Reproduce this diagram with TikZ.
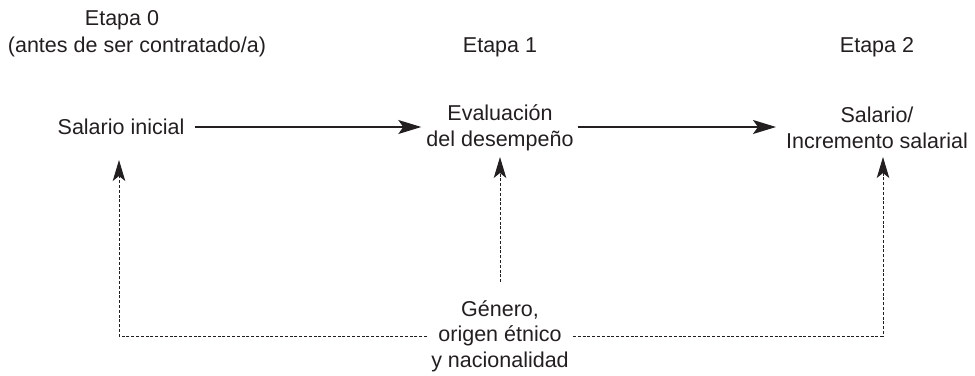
\documentclass[tikz,border=0pt]{standalone}
\usepackage{fontspec}
\setmainfont{Liberation Sans}
\usetikzlibrary{arrows.meta}
\definecolor{ink}{HTML}{231F20}
\begin{document}
\begin{tikzpicture}[x=1pt,y=-1pt,
  txt/.style={inner sep=4pt, text=ink, align=center, font=\fontsize{21.5}{25.5}\selectfont},
  flow/.style={draw=ink, line width=1.3pt, -{Stealth[length=23pt,width=14pt,inset=5pt]}},
  infl/.style={draw=ink, line width=1pt, dash pattern=on 3pt off 1.8pt},
  infltip/.style={infl, -{Stealth[length=21pt,width=12.5pt,inset=5pt]}}]
\useasboundingbox (0,0) rectangle (975,375);
\node[txt] (e0a) at (122,20) {Etapa 0};
\node[txt] (e0b) at (137,47) {(antes de ser contratado/a)};
\node[txt] (e1) at (500,47) {Etapa 1};
\node[txt] (e2) at (877,47) {Etapa 2};
\node[txt] (sal) at (121,127) {Salario inicial};
\node[txt] (ev) at (500,128) {Evaluación\\del desempeño};
\node[txt] (inc) at (877,128) {Salario/\\Incremento salarial};
\node[txt] (gen) at (500,336) {Género,\\origen étnico\\y nacionalidad};
\draw[flow, shorten <=6pt, shorten >=1pt] (sal.east) -- (sal.east -| ev.west);
\draw[flow, shorten >=6pt] (ev.east |- sal.east) -- (sal.east -| inc.west);
\draw[infltip] (gen.north) ++(0,-14) coordinate (gtop) -- (gtop |- 0,157) coordinate (t1);
\coordinate (t0) at (119,160);
\coordinate (t2) at (883,157);
\draw[infltip] (gen.west) -| (t0);
\draw[infltip] (gen.east) -| (t2);
\end{tikzpicture}
\end{document}
